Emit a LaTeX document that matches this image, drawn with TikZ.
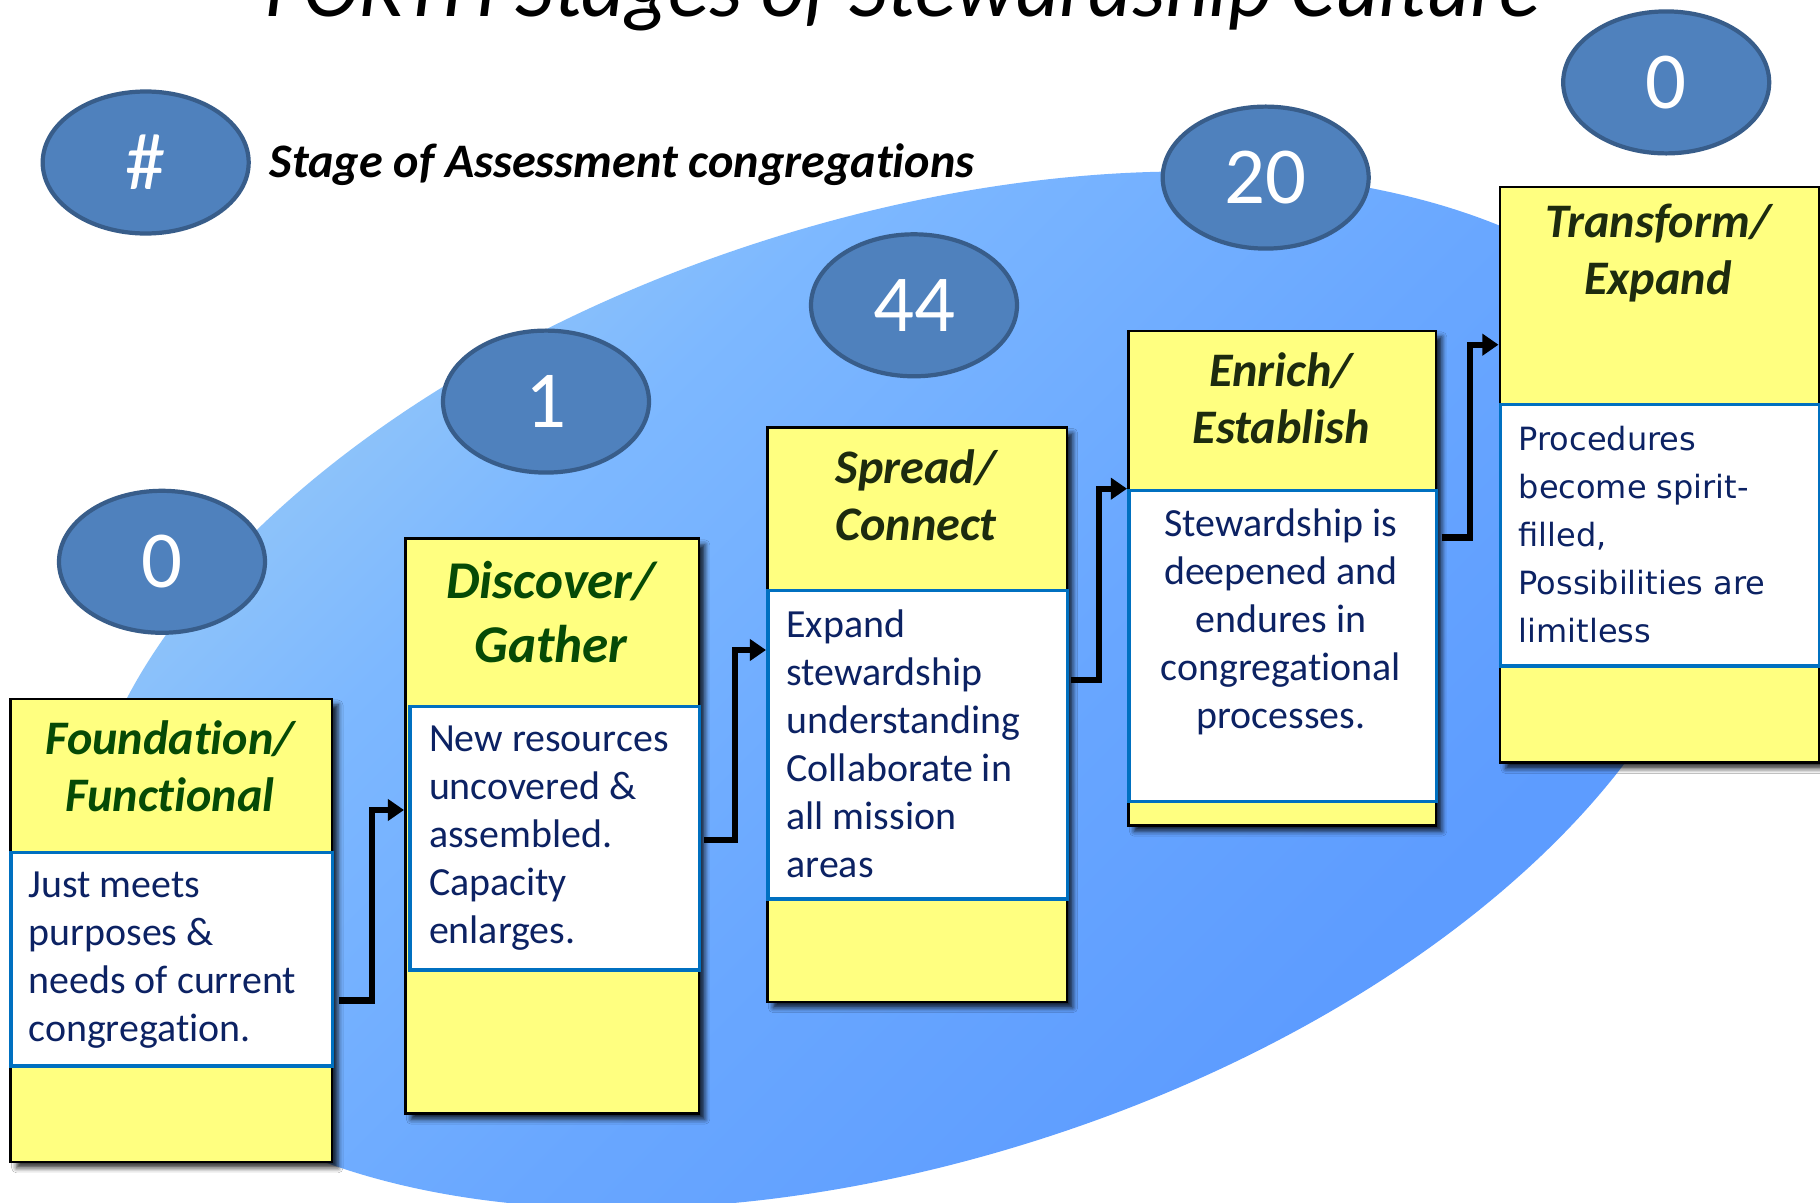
\documentclass[tikz,border=0pt]{standalone}
\usepackage{fontspec}
\setmainfont{Carlito}[Ligatures={NoCommon}]
\newfontfamily\dejavu{DejaVu Sans}
\usetikzlibrary{shapes.geometric, arrows.meta, calc, shadows.blur}
\newdimen\PXU \PXU=0.01cm
\definecolor{boxyellow}{HTML}{FFFF80}
\definecolor{bodyblue}{HTML}{0070C0}
\definecolor{navytext}{HTML}{0C2263}
\definecolor{hdrgreen}{HTML}{064A06}
\definecolor{hdrdark}{HTML}{1D2B0F}
\definecolor{ovalfill}{HTML}{4F81BD}
\definecolor{ovaldraw}{HTML}{385D8A}
\definecolor{ellA}{HTML}{AECBEE}
\definecolor{ellB}{HTML}{8CC2FA}
\definecolor{ellC}{HTML}{7DB8FF}
\definecolor{ellD}{HTML}{69A7FF}
\definecolor{ellE}{HTML}{5D9CFF}
\pgfdeclarehorizontalshading{ellshade}{100bp}{color(0bp)=(ellA); color(21bp)=(ellA); color(30bp)=(ellB); color(35bp)=(ellC); color(48bp)=(ellD); color(60bp)=(ellE); color(100bp)=(ellE)}
\newcommand\titlefont{\fontsize{24.1pt}{29pt}\selectfont\itshape}
\newcommand\legendfont{\fontsize{13.7pt}{16.4pt}\selectfont\bfseries\itshape}
\newcommand\hdrfont{\fontsize{13.7pt}{16.2pt}\selectfont\bfseries\itshape}
\newcommand\hdrbigfont{\fontsize{15.1pt}{18.2pt}\selectfont\bfseries\itshape}
\newcommand\bodyfont{\fontsize{11.35pt}{13.66pt}\selectfont}
\newcommand\bodyalt{\dejavu\fontsize{9.1pt}{13.6pt}\selectfont}
\newcommand\ovalfont{\fontsize{23pt}{27pt}\selectfont}
\begin{document}
\begin{tikzpicture}[x=0.01cm, y=-0.01cm,
  stagebox/.style={draw=black, line width=0.75pt, fill=boxyellow, rectangle, inner sep=0pt, anchor=north west,
    blur shadow={shadow xshift=1.7pt, shadow yshift=-1.7pt, shadow blur radius=1.4pt, shadow opacity=80}},
  bodybox/.style={draw=bodyblue, line width=1pt, fill=white, rectangle, inner sep=0pt, anchor=north west},
  hdrtext/.style={font=\hdrfont, align=center, inner sep=0pt},
  bodytext/.style={font=\bodyfont, text=navytext, align=left, inner sep=0pt, anchor=west},
  countoval/.style={ellipse, fill=ovalfill, draw=ovaldraw, line width=1.2pt, minimum width=206\PXU, minimum height=142\PXU, inner sep=0pt, text=white, font=\ovalfont},
  conn/.style={draw=black, line width=1.8pt, -{Triangle[length=4.6pt,width=6pt]}}
]
\useasboundingbox (0,0) rectangle (1820,1203);
\clip (0,0) rectangle (1820,1203);
\fill[white] (0,0) rectangle (1820,1203);

% background ellipse
\begin{scope}
  \clip[rotate around={18:(902,690)}] (902,690) ellipse [x radius=850, y radius=470];
  \shade[shading=ellshade, shading angle=-45] (0,0) rectangle (1820,1820);
\end{scope}

% title and legend
\node[font=\titlefont, anchor=base, inner sep=0pt] (title) at (902.5,16) {FORTH Stages of Stewardship Culture};
\node[countoval] (lg) at (145.7,162.5) {\#};
\node[font=\legendfont, anchor=base west, inner sep=0pt] (lt) at (269,177.6) {Stage of Assessment congregations};

% stage boxes
\node[stagebox, minimum width=321.5\PXU, minimum height=463\PXU] (b1) at (9.3,697.6) {};
\node[stagebox, minimum width=293.6\PXU, minimum height=574.6\PXU] (b2) at (404,537.4) {};
\node[stagebox, minimum width=299.5\PXU, minimum height=574.5\PXU] (b3) at (766,426) {};
\node[stagebox, minimum width=307.6\PXU, minimum height=494.4\PXU] (b4) at (1127,329.6) {};
\node[stagebox, minimum width=319.2\PXU, minimum height=575.7\PXU] (b5) at (1498.5,185.7) {};

% white bodies
\node[bodybox, minimum width=321.5\PXU, minimum height=213.6\PXU] (w1) at (9.3,850.8) {};
\node[bodybox, minimum width=289.6\PXU, minimum height=263.5\PXU] (w2) at (408,704.5) {};
\node[bodybox, minimum width=299.5\PXU, minimum height=308.7\PXU] (w3) at (766,588.5) {};
\node[bodybox, minimum width=307.6\PXU, minimum height=311\PXU] (w4) at (1127,488.7) {};
\node[bodybox, minimum width=319.2\PXU, minimum height=261.2\PXU] (w5) at (1498.5,402.8) {};

% headers
\node[hdrtext, text=hdrgreen] (h1) at (170,766.5) {Foundation/\\Functional};
\node[hdrtext, font=\hdrbigfont, text=hdrgreen] (h2) at (551,612) {Discover/\\Gather};
\node[hdrtext, text=hdrdark] (h3) at (916,495) {Spread/\\Connect};
\node[hdrtext, text=hdrdark] (h4) at (1281,398.5) {Enrich/\\Establish};
\node[hdrtext, text=hdrdark] (h5) at (1658,253) {Transform/\\Expand};

% body texts
\node[bodytext] (t1) at (27.9,960) {Just meets\\purposes \&\\needs of current\\congregation.};
\node[bodytext] (t2) at (428.3,838.5) {New resources\\uncovered \&\\assembled.\\Capacity\\enlarges.};
\node[bodytext] (t3) at (785.8,743.4) {Expand\\stewardship\\understanding\\Collaborate in\\all mission\\areas};
\node[bodytext, align=center, anchor=center] (t4) at (1280.8,622) {Stewardship is\\deepened and\\endures in\\congregational\\processes.};
\node[bodytext, font=\bodyalt] (t5) at (1518,534.5) {Procedures\\become spirit-\\filled,\\Possibilities are\\limitless};

% connectors
\coordinate (c1s) at ($(b1.north east)+(6,303)$);
\coordinate (c1e) at ($(b2.north west)+(0,272.6)$);
\coordinate (c2s) at ($(b2.north east)+(4,302.6)$);
\coordinate (c2e) at ($(b3.north west)+(0,224)$);
\coordinate (c3s) at ($(b3.north east)+(3,254)$);
\coordinate (c3e) at ($(b4.north west)+(0,159.1)$);
\coordinate (c4s) at ($(b4.north east)+(4.5,207.8)$);
\coordinate (c4e) at ($(b5.north west)+(0,159)$);
\draw[conn] (c1s) -| ($(c1s)!0.5!(c1e)$) |- (c1e);
\draw[conn] (c2s) -| ($(c2s)!0.5!(c2e)$) |- (c2e);
\draw[conn] (c3s) -| ($(c3s)!0.5!(c3e)$) |- (c3e);
\draw[conn] (c4s) -| ($(c4s)!0.5!(c4e)$) |- (c4e);

% count ovals
\node[countoval] (n1) at (162,561.8) {0};
\node[countoval] (n2) at (546,401.6) {1};
\node[countoval] (n3) at (914,305.3) {44};
\node[countoval] (n4) at (1265.7,177.6) {20};
\node[countoval] (n5) at (1666.2,82.4) {0};
\end{tikzpicture}
\end{document}
